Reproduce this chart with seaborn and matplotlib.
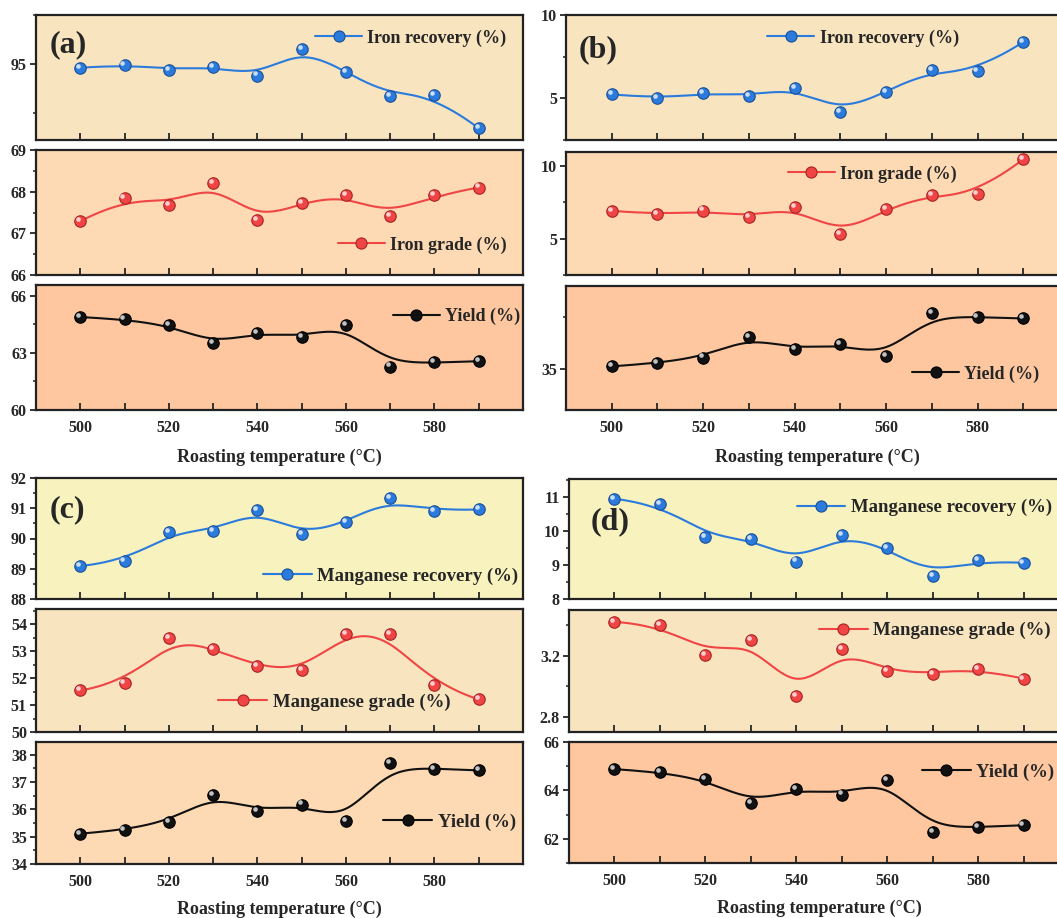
import numpy as np
import pandas as pd
import matplotlib
matplotlib.use("Agg")
import matplotlib.pyplot as plt
import matplotlib.transforms as mtrans
from matplotlib.lines import Line2D
from matplotlib.ticker import MultipleLocator, FixedLocator
import seaborn as sns

# ---------------- data ----------------
temperature = [500, 510, 520, 530, 540, 550, 560, 570, 580, 590]

# (a)
iron_recovery_a = [94.96, 94.99, 94.94, 94.97, 94.88, 95.15, 94.92, 94.67, 94.68, 94.34]
iron_grade_a = [67.29, 67.84, 67.67, 68.20, 67.33, 67.73, 67.91, 67.41, 67.91, 68.10]
yield_a = [64.88, 64.75, 64.48, 63.49, 64.06, 63.83, 64.44, 62.28, 62.50, 62.56]
# (b)
iron_recovery_b = [5.24, 5.00, 5.32, 5.16, 5.62, 4.20, 5.40, 6.70, 6.62, 8.38]
iron_grade_b = [6.91, 6.66, 6.93, 6.50, 7.16, 5.30, 7.02, 8.02, 8.07, 10.45]
yield_b = [35.11, 35.27, 35.54, 36.52, 35.94, 36.20, 35.59, 37.70, 37.48, 37.43]
# (c)
mn_recovery_c = [89.09, 89.24, 90.21, 90.26, 90.93, 90.14, 90.53, 91.33, 90.91, 90.96]
mn_grade_c = [51.54, 51.81, 53.47, 53.09, 52.44, 52.29, 53.63, 53.63, 51.73, 51.21]
yield_c = [35.11, 35.25, 35.53, 36.52, 35.94, 36.18, 35.57, 37.70, 37.48, 37.43]
# (d)
mn_recovery_d = [10.94, 10.78, 9.83, 9.77, 9.10, 9.87, 9.49, 8.68, 9.13, 9.06]
mn_grade_d = [3.422, 3.404, 3.202, 3.303, 2.938, 3.242, 3.101, 3.083, 3.114, 3.050]
yield_d = [64.88, 64.75, 64.48, 63.49, 64.06, 63.83, 64.44, 62.28, 62.50, 62.56]

label_fe_rec = "Iron recovery (%)"
label_fe_grade = "Iron grade (%)"
label_mn_rec = "Manganese recovery (%)"
label_mn_grade = "Manganese grade (%)"
label_yield = "Yield (%)"
xlabel = "Roasting temperature (\u00b0C)"

# ---------------- style ----------------
sns.set_theme(style="ticks")
plt.rcParams["font.family"] = ["Liberation Serif", "DejaVu Serif"]
plt.rcParams["font.weight"] = "bold"
plt.rcParams["axes.labelweight"] = "bold"
plt.rcParams["axes.linewidth"] = 1.6
plt.rcParams["mathtext.default"] = "regular"

BLUE = "#2b7bdc"
RED = "#f04545"
BLACK = "#111111"
EDGE = {BLUE: "#1a4f99", RED: "#a82222", BLACK: "#000000"}

BG_WHEAT = "#f8e5c0"
BG_PEACH = "#fddab4"
BG_ORANGE = "#fec7a0"
BG_YELLOW = "#f7f2be"


def bspline(xs, ys, n=400, k=3):
    """Clamped cubic B-spline with the data as control points (Origin-style)."""
    P = np.column_stack([xs, ys]).astype(float)
    m = len(P)
    knots = np.concatenate([np.zeros(k), np.linspace(0, 1, m - k + 1), np.ones(k)])
    t = np.linspace(0, 1, n)
    t[-1] -= 1e-10
    N = np.zeros((n, len(knots) - 1))
    for i in range(len(knots) - 1):
        N[:, i] = np.where((t >= knots[i]) & (t < knots[i + 1]), 1.0, 0.0)
    for d in range(1, k + 1):
        Nn = np.zeros((n, len(knots) - 1 - d))
        for i in range(len(knots) - 1 - d):
            a = np.zeros(n)
            b = np.zeros(n)
            den1 = knots[i + d] - knots[i]
            den2 = knots[i + d + 1] - knots[i + 1]
            if den1 > 0:
                a = (t - knots[i]) / den1 * N[:, i]
            if den2 > 0:
                b = (knots[i + d + 1] - t) / den2 * N[:, i + 1]
            Nn[:, i] = a + b
        N = Nn
    C = N @ P
    return C[:, 0], C[:, 1]


fig = plt.figure(figsize=(10.57, 9.18), dpi=100)
W, H = 1057.0, 918.0


def add_ax(left, right, top, bottom):
    return fig.add_axes([left / W, 1 - bottom / H, (right - left) / W, (bottom - top) / H])


def draw(ax, y, color, label, bg, ylim, major, minor, leg_xy, bottom_row=False,
         leg_size=13, xlabelpad=9):
    ax.set_facecolor(bg)
    sx, sy = bspline(temperature, y)
    df_curve = pd.DataFrame({"x": sx, "y": sy})
    df_pts = pd.DataFrame({"x": temperature, "y": y})
    sns.lineplot(data=df_curve, x="x", y="y", ax=ax, color=color, lw=1.5,
                 sort=False, estimator=None, zorder=2)
    sns.scatterplot(data=df_pts, x="x", y="y", ax=ax, color=color, s=68,
                    edgecolor=EDGE[color], linewidth=0.8, zorder=3)
    off = mtrans.offset_copy(ax.transData, fig=fig, x=-1.5, y=1.5, units="points")
    ax.scatter(temperature, y, s=11, color="white", alpha=0.75, linewidths=0,
               transform=off, zorder=4)
    ax.set_xlim(490, 600)
    ax.set_ylim(*ylim)
    ax.xaxis.set_major_locator(FixedLocator([500, 520, 540, 560, 580]))
    ax.xaxis.set_minor_locator(FixedLocator([510, 530, 550, 570, 590]))
    ax.yaxis.set_major_locator(MultipleLocator(major))
    ax.yaxis.set_minor_locator(MultipleLocator(minor))
    ax.tick_params(axis="x", which="both", direction="in", length=5, width=1.3,
                   labelsize=11.5, pad=7, labelbottom=bottom_row)
    ax.tick_params(axis="y", which="major", direction="out", length=4.5, width=1.3,
                   labelsize=11.5, pad=2)
    ax.tick_params(axis="y", which="minor", direction="out", length=2.5, width=1.1)
    for lbl in ax.get_xticklabels() + ax.get_yticklabels():
        lbl.set_fontweight("bold")
    for s in ax.spines.values():
        s.set_visible(True)
        s.set_linewidth(1.6)
        s.set_color("#222222")
    ax.set_ylabel("")
    if bottom_row:
        ax.set_xlabel(xlabel, fontsize=13, fontweight="bold", labelpad=xlabelpad)
    else:
        ax.set_xlabel("")
    h = Line2D([], [], color=color, lw=1.5, marker="o", markersize=8,
               markerfacecolor=color, markeredgecolor=EDGE[color], markeredgewidth=0.8)
    ax.legend([h], [label], loc="center left", bbox_to_anchor=leg_xy, frameon=False,
              borderpad=0, borderaxespad=0, handlelength=2.6, handletextpad=0.3,
              prop={"family": "Liberation Serif", "weight": "bold", "size": leg_size})


# ---- panel (a) ----
axL, axR = 36, 523
a1 = add_ax(axL, axR, 15, 140)
a2 = add_ax(axL, axR, 150, 275)
a3 = add_ax(axL, axR, 285, 410)
draw(a1, iron_recovery_a, BLUE, label_fe_rec, BG_WHEAT, (94.22, 95.5), 1, 0.5, (0.573, 0.816))
draw(a2, iron_grade_a, RED, label_fe_grade, BG_PEACH, (66, 69), 1, 0.5, (0.62, 0.24))
draw(a3, yield_a, BLACK, label_yield, BG_ORANGE, (60, 66.56), 3, 1.5, (0.733, 0.746), True)
a1.text(0.028, 0.76, "(a)", transform=a1.transAxes, fontsize=23, fontweight="bold",
        va="center", ha="left")

# ---- panel (b) ----
bL, bR = 566, 1069
b1 = add_ax(bL, bR, 15, 140)
b2 = add_ax(bL, bR, 152, 275)
b3 = add_ax(bL, bR, 286, 410)
draw(b1, iron_recovery_b, BLUE, label_fe_rec, BG_WHEAT, (2.5, 10), 5, 2.5, (0.40, 0.816))
draw(b2, iron_grade_b, RED, label_fe_grade, BG_PEACH, (2.5, 10.95), 5, 2.5, (0.441, 0.82))
draw(b3, yield_b, BLACK, label_yield, BG_ORANGE, (33, 39), 5, 2.5, (0.688, 0.29), True)
b1.text(0.026, 0.72, "(b)", transform=b1.transAxes, fontsize=23, fontweight="bold",
        va="center", ha="left")

# ---- panel (c) ----
c1 = add_ax(axL, axR, 478, 599)
c2 = add_ax(axL, axR, 609, 732)
c3 = add_ax(axL, axR, 742, 864)
draw(c1, mn_recovery_c, BLUE, label_mn_rec, BG_YELLOW, (88, 92), 1, 0.5, (0.466, 0.19),
     leg_size=13.5)
draw(c2, mn_grade_c, RED, label_mn_grade, BG_WHEAT, (50, 54.56), 1, 0.5, (0.374, 0.245),
     leg_size=13.5)
draw(c3, yield_c, BLACK, label_yield, BG_PEACH, (34, 38.47), 1, 0.5, (0.713, 0.345), True,
     leg_size=13.5, xlabelpad=8)
c1.text(0.028, 0.74, "(c)", transform=c1.transAxes, fontsize=23, fontweight="bold",
        va="center", ha="left")

# ---- panel (d) ----
dL, dR = 569, 1069
d1 = add_ax(dL, dR, 479, 599)
d2 = add_ax(dL, dR, 610, 732)
d3 = add_ax(dL, dR, 742, 863)
draw(d1, mn_recovery_d, BLUE, label_mn_rec, BG_YELLOW, (8, 11.52), 1, 0.5, (0.455, 0.76),
     leg_size=13.5)
draw(d2, mn_grade_d, RED, label_mn_grade, BG_WHEAT, (2.7, 3.5), 0.4, 0.2, (0.50, 0.83),
     leg_size=13.5)
draw(d3, yield_d, BLACK, label_yield, BG_ORANGE, (61, 66), 2, 1, (0.706, 0.75), True,
     leg_size=13.5, xlabelpad=8)
d1.text(0.044, 0.64, "(d)", transform=d1.transAxes, fontsize=23, fontweight="bold",
        va="center", ha="left")

fig.savefig("out.png", dpi=100, facecolor="white")
